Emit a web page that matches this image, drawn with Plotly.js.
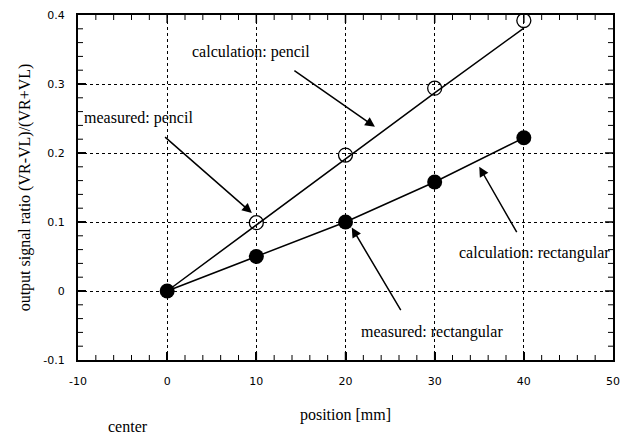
<!DOCTYPE html>
<html>
<head>
<meta charset="utf-8">
<script src="https://cdn.plot.ly/plotly-3.0.1.min.js"></script>
<style>html,body{margin:0;padding:0;background:#fff;}#chart{width:629px;height:438px;}</style>
</head>
<body>
<div id="chart"></div>
<script>
// position [mm]
const positions = [0, 10, 20, 30, 40];
// measured: pencil (open circles)
const pencilPos = [10, 20, 30, 40];
const pencilMeasured = [0.099, 0.197, 0.294, 0.392];
// calculation: pencil (line)
const pencilCalc = [0, 0.096, 0.192, 0.287, 0.381];
// measured / calculation: rectangular (filled circles + line)
const rectMeasured = [0, 0.05, 0.1, 0.158, 0.222];
const rectCalc = [0, 0.05, 0.1, 0.158, 0.222];

// tick label text (plain hyphen for negatives, as in the original)
const xAlias = {'\u221210': '-10'};
const yAlias = {'\u22120.1': '-0.1'};

const xRange = [-10, 50], xMajor = 10, xMinor = 2;
const yRange = [-0.1, 0.4], yMajor = 0.1, yMinor = 0.02;

const serif = '"Liberation Serif", "Times New Roman", serif';
const sans = '"DejaVu Sans", Arial, sans-serif';

const traces = [
  {x: positions, y: pencilCalc, mode: 'lines', line: {color: '#000', width: 1.5}, hoverinfo: 'skip'},
  {x: positions, y: rectCalc, mode: 'lines', line: {color: '#000', width: 1.5}, hoverinfo: 'skip'},
  {x: pencilPos, y: pencilMeasured, mode: 'markers',
   marker: {symbol: 'circle-open', size: 14, color: '#000', line: {width: 1.3, color: '#000'}}},
  {x: positions, y: rectMeasured, mode: 'markers',
   marker: {symbol: 'circle', size: 15, color: '#000'}}
];

function arrow(hx, hy, tx, ty) {
  return {x: hx, y: hy, ax: tx, ay: ty, xref: 'x', yref: 'y', axref: 'x', ayref: 'y',
          text: '', showarrow: true, arrowhead: 2, arrowsize: 1.3, arrowwidth: 1.5, arrowcolor: '#000'};
}
function label(txt, x, y) {
  return {x: x, y: y, xref: 'x', yref: 'y', text: txt, showarrow: false,
          font: {family: serif, size: 16, color: '#000'}};
}

const annotations = [
  arrow(23.3, 0.238, 14.1, 0.321),
  arrow(9.5, 0.113, -0.4, 0.225),
  arrow(35.0, 0.180, 39.3, 0.083),
  arrow(20.7, 0.092, 26.3, -0.030),
  label('calculation: pencil', 9.4, 0.347),
  label('measured: pencil', -3.2, 0.251),
  label('calculation: rectangular', 41.2, 0.055),
  label('measured: rectangular', 29.7, -0.059),
  {x: -4.4, y: -0.194, xref: 'x', yref: 'paper', yanchor: 'middle', text: 'center', showarrow: false,
   font: {family: serif, size: 16, color: '#000'}}
];

// inward tick marks on all four sides of the frame (axis decoration)
const tickShapes = [];
function addTicks(letter, lo, hi, step, major, lenMajor, lenMinor) {
  const n = Math.round((hi - lo) / step);
  for (let i = 1; i < n; i++) {
    const v = +(lo + i * step).toFixed(6);
    const isMajor = Math.abs(v / major - Math.round(v / major)) < 1e-6;
    const len = isMajor ? lenMajor : lenMinor;
    const w = isMajor ? 1.5 : 1;
    [0, 1].forEach(function (side) {
      const s = side === 0 ? len : -len;
      if (letter === 'x') {
        tickShapes.push({type: 'line', xref: 'x', x0: v, x1: v, yref: 'paper', ysizemode: 'pixel',
          yanchor: side, y0: 0, y1: s, line: {color: '#000', width: w}});
      } else {
        tickShapes.push({type: 'line', yref: 'y', y0: v, y1: v, xref: 'paper', xsizemode: 'pixel',
          xanchor: side, x0: 0, x1: s, line: {color: '#000', width: w}});
      }
    });
  }
}
addTicks('x', xRange[0], xRange[1], xMinor, xMajor, 8, 5);
addTicks('y', yRange[0], yRange[1], yMinor, yMajor, 8, 5);

const axisCommon = {
  ticks: 'inside', ticklen: 8, tickwidth: 1.5, tickcolor: '#000',
  showline: true, linewidth: 2, linecolor: '#000', mirror: true,
  showgrid: true, gridcolor: '#000', gridwidth: 1, griddash: 'dot',
  zeroline: false,
  tickfont: {family: sans, size: 11, color: '#000'}
};

const layout = {
  width: 629, height: 438,
  margin: {l: 78, r: 16, t: 15, b: 78},
  paper_bgcolor: '#fff', plot_bgcolor: '#fff',
  showlegend: false,
  xaxis: Object.assign({}, axisCommon, {
    range: xRange, dtick: xMajor, labelalias: xAlias, ticklabelstandoff: 10,
    title: {text: 'position [mm]', font: {family: serif, size: 16, color: '#000'}, standoff: 22}
  }),
  yaxis: Object.assign({}, axisCommon, {
    range: yRange, dtick: yMajor, labelalias: yAlias, ticklabelstandoff: 9,
    title: {text: 'output signal ratio (VR-VL)/(VR+VL)', font: {family: serif, size: 16, color: '#000'}, standoff: 9}
  }),
  shapes: tickShapes,
  annotations: annotations
};

Plotly.newPlot('chart', traces, layout, {displayModeBar: false});
</script>
</body>
</html>
